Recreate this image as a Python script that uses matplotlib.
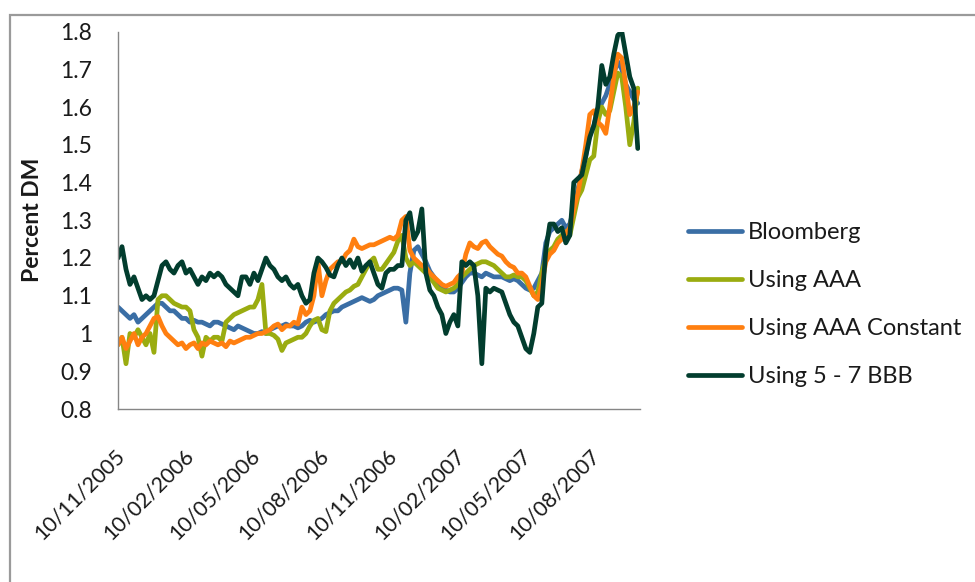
import matplotlib
matplotlib.use("Agg")
import matplotlib.pyplot as plt
import matplotlib.transforms as mtransforms
from matplotlib.patches import Rectangle
import pandas as pd

# ---- data -------------------------------------------------------------
start_date = "2005-11-10"
end_date = "2007-10-10"

bloomberg = [
    1.07, 1.06, 1.05, 1.04, 1.05, 1.03, 1.04, 1.05, 1.06, 1.07,
    1.08, 1.08, 1.07, 1.06, 1.06, 1.05, 1.04, 1.04, 1.03, 1.035,
    1.03, 1.03, 1.025, 1.02, 1.03,
    1.03, 1.025, 1.02, 1.015, 1.01, 1.02, 1.015, 1.01, 1.005, 1.0,
    1.0, 1.005, 1.0, 1.01, 1.015, 1.02, 1.02, 1.025, 1.02, 1.02,
    1.015, 1.02, 1.03, 1.035,
    1.03, 1.035, 1.04, 1.05, 1.055, 1.06, 1.06, 1.07, 1.075, 1.08,
    1.085, 1.09, 1.095, 1.09, 1.085, 1.09, 1.10, 1.105, 1.11, 1.115,
    1.12, 1.12, 1.115, 1.03, 1.16,
    1.22, 1.23, 1.21, 1.19, 1.165, 1.15, 1.13, 1.12, 1.115, 1.11,
    1.11, 1.12, 1.135, 1.15, 1.16, 1.16, 1.155, 1.15, 1.16, 1.155,
    1.15, 1.15, 1.15, 1.145,
    1.14, 1.145, 1.14, 1.13, 1.12, 1.115, 1.12, 1.14, 1.16, 1.24,
    1.27, 1.28, 1.29, 1.30, 1.28, 1.29, 1.33, 1.38, 1.43, 1.47,
    1.53, 1.55, 1.59, 1.61, 1.63, 1.66, 1.69, 1.72, 1.70, 1.66,
    1.64, 1.62, 1.61,
]

using_aaa = [
    0.97, 0.99, 0.92, 1.00, 0.99, 1.01, 0.99, 0.97, 1.00, 0.95,
    1.09, 1.10, 1.10, 1.09, 1.08, 1.075, 1.07, 1.07, 1.06, 1.01,
    0.99, 0.94, 0.99, 0.98, 0.99,
    0.99, 0.98, 1.03, 1.04, 1.05, 1.055, 1.06, 1.065, 1.07, 1.07,
    1.09, 1.13, 1.00, 1.00, 0.995, 0.985, 0.955, 0.975, 0.98, 0.985,
    0.99, 0.99, 1.00, 1.02,
    1.035, 1.04, 1.01, 1.005, 1.06, 1.08, 1.09, 1.10, 1.11, 1.115,
    1.125, 1.13, 1.15, 1.17, 1.19, 1.20, 1.17, 1.17, 1.185, 1.20,
    1.215, 1.245, 1.26, 1.20, 1.18,
    1.19, 1.18, 1.17, 1.16, 1.15, 1.135, 1.12, 1.115, 1.11, 1.115,
    1.12, 1.13, 1.15, 1.16, 1.17, 1.18, 1.185, 1.19, 1.19, 1.185,
    1.18, 1.17, 1.16, 1.15,
    1.15, 1.155, 1.15, 1.15, 1.14, 1.12, 1.10, 1.11, 1.16, 1.20,
    1.22, 1.23, 1.25, 1.26, 1.27, 1.26, 1.31, 1.36, 1.38, 1.42,
    1.46, 1.47, 1.56, 1.60, 1.58, 1.59, 1.64, 1.69, 1.68, 1.60,
    1.50, 1.56, 1.65,
]

using_aaa_constant = [
    0.97, 0.99, 0.96, 0.98, 1.00, 0.97, 0.99, 1.00, 1.02, 1.04,
    1.045, 1.02, 1.00, 0.99, 0.98, 0.97, 0.975, 0.96, 0.97, 0.975,
    0.96, 0.975, 0.97, 0.98, 0.975,
    0.97, 0.975, 0.965, 0.98, 0.975, 0.98, 0.985, 0.99, 0.99, 0.995,
    1.0, 1.0, 1.005, 1.01, 1.02, 1.025, 1.01, 1.02, 1.02, 1.03,
    1.025, 1.07, 1.05, 1.06,
    1.10, 1.19, 1.10, 1.14, 1.17, 1.18, 1.19, 1.19, 1.21, 1.22,
    1.25, 1.23, 1.225, 1.23, 1.235, 1.235, 1.24, 1.245, 1.25, 1.255,
    1.25, 1.26, 1.30, 1.31, 1.22,
    1.20, 1.19, 1.18, 1.175, 1.16, 1.15, 1.14, 1.13, 1.125, 1.13,
    1.135, 1.15, 1.16, 1.21, 1.24, 1.23, 1.225, 1.24, 1.245, 1.23,
    1.22, 1.21, 1.205, 1.19,
    1.18, 1.175, 1.16, 1.16, 1.15, 1.125, 1.10, 1.09, 1.13, 1.19,
    1.21, 1.22, 1.24, 1.25, 1.265, 1.28, 1.33, 1.37, 1.43, 1.50,
    1.58, 1.59, 1.56, 1.55, 1.53, 1.60, 1.68, 1.74, 1.73, 1.66,
    1.58, 1.60, 1.64,
]

using_5_7_bbb = [
    1.20, 1.23, 1.17, 1.13, 1.15, 1.12, 1.09, 1.10, 1.09, 1.10,
    1.14, 1.18, 1.19, 1.17, 1.16, 1.18, 1.19, 1.16, 1.17, 1.15,
    1.13, 1.15, 1.14, 1.16, 1.15,
    1.16, 1.15, 1.13, 1.12, 1.11, 1.10, 1.15, 1.15, 1.13, 1.16,
    1.14, 1.17, 1.20, 1.18, 1.17, 1.15, 1.14, 1.15, 1.13, 1.12,
    1.13, 1.10, 1.08, 1.09,
    1.16, 1.20, 1.19, 1.175, 1.155, 1.15, 1.18, 1.20, 1.18, 1.195,
    1.175, 1.20, 1.165, 1.18, 1.19, 1.16, 1.13, 1.12, 1.16, 1.17,
    1.17, 1.18, 1.18, 1.30, 1.32,
    1.25, 1.27, 1.33, 1.16, 1.115, 1.10, 1.07, 1.05, 1.00, 1.03,
    1.05, 1.02, 1.19, 1.18, 1.19, 1.18, 1.10, 0.92, 1.12, 1.11,
    1.12, 1.115, 1.11, 1.08,
    1.05, 1.03, 1.02, 0.99, 0.96, 0.95, 1.00, 1.07, 1.08, 1.22,
    1.29, 1.29, 1.27, 1.28, 1.24, 1.26, 1.40, 1.41, 1.42, 1.47,
    1.52, 1.55, 1.60, 1.71, 1.66, 1.68, 1.74, 1.79, 1.80, 1.74,
    1.68, 1.65, 1.49,
]

series_labels = ["Bloomberg", "Using AAA", "Using AAA Constant", "Using 5 - 7 BBB"]
series_values = [bloomberg, using_aaa, using_aaa_constant, using_5_7_bbb]
series_colors = ["#3A6EA5", "#9AAC10", "#FF7F10", "#023D2E"]

tick_dates = ["2005-11-10", "2006-02-10", "2006-05-10", "2006-08-10",
              "2006-11-10", "2007-02-10", "2007-05-10", "2007-08-10"]
tick_labels = ["10/11/2005", "10/02/2006", "10/05/2006", "10/08/2006",
               "10/11/2006", "10/02/2007", "10/05/2007", "10/08/2007"]
y_ticks = [0.8, 0.9, 1.0, 1.1, 1.2, 1.3, 1.4, 1.5, 1.6, 1.7, 1.8]
y_tick_labels = ["0.8", "0.9", "1", "1.1", "1.2", "1.3", "1.4", "1.5", "1.6", "1.7", "1.8"]

# ---- figure -----------------------------------------------------------
plt.rcParams["font.family"] = ["Lato", "DejaVu Sans"]
TEXT = "#1a1a1a"
AXIS = "#868686"
FS = 16.5

W, H = 975, 582
fig = plt.figure(figsize=(W / 100, H / 100), dpi=100)
fig.patch.set_facecolor("white")

# chart-area border
fig.add_artist(Rectangle((10 / W, -0.2), 1.2, 1 - 15 / H + 0.2,
                         transform=fig.transFigure, fill=False,
                         edgecolor="#9a9a9a", linewidth=1.6, clip_on=False))

ax = fig.add_axes([118 / W, (H - 409) / H, 522 / W, 377.5 / H])

dates = pd.date_range(start_date, end_date, periods=len(bloomberg))
for vals, lab, col in zip(series_values, series_labels, series_colors):
    ax.plot(dates, vals, color=col, label=lab, linewidth=3.4,
            solid_joinstyle="round", solid_capstyle="round")

ax.set_xlim(pd.Timestamp(start_date), pd.Timestamp("2007-10-13"))
ax.set_ylim(0.8, 1.8)

ax.set_yticks(y_ticks)
ax.set_yticklabels(y_tick_labels)
ax.set_xticks(pd.to_datetime(tick_dates))
ax.set_xticklabels(tick_labels, rotation=45, ha="right", va="top",
                   rotation_mode="anchor")

ax.tick_params(axis="y", length=0, pad=18.5, labelsize=FS, labelcolor=TEXT)
ax.tick_params(axis="x", length=0, pad=26.5, labelsize=15.5, labelcolor=TEXT)
shift = mtransforms.ScaledTranslation(-3 / 100, 0, fig.dpi_scale_trans)
for lbl in ax.get_xticklabels():
    lbl.set_transform(lbl.get_transform() + shift)

for side in ("top", "right"):
    ax.spines[side].set_visible(False)
for side in ("left", "bottom"):
    ax.spines[side].set_color(AXIS)
    ax.spines[side].set_linewidth(1.0)

ax.set_ylabel("Percent DM", fontsize=FS, fontweight="bold", color=TEXT)
ax.yaxis.set_label_coords(-0.1437, 0.5)

leg = ax.legend(loc="upper left", bbox_to_anchor=(688 / W, 1 - 222 / H),
                bbox_transform=fig.transFigure, frameon=False, fontsize=17,
                handlelength=2.3, handletextpad=0.22, labelspacing=1.15,
                borderpad=0, borderaxespad=0)
for t in leg.get_texts():
    t.set_color(TEXT)

fig.savefig("out.png", dpi=100)
